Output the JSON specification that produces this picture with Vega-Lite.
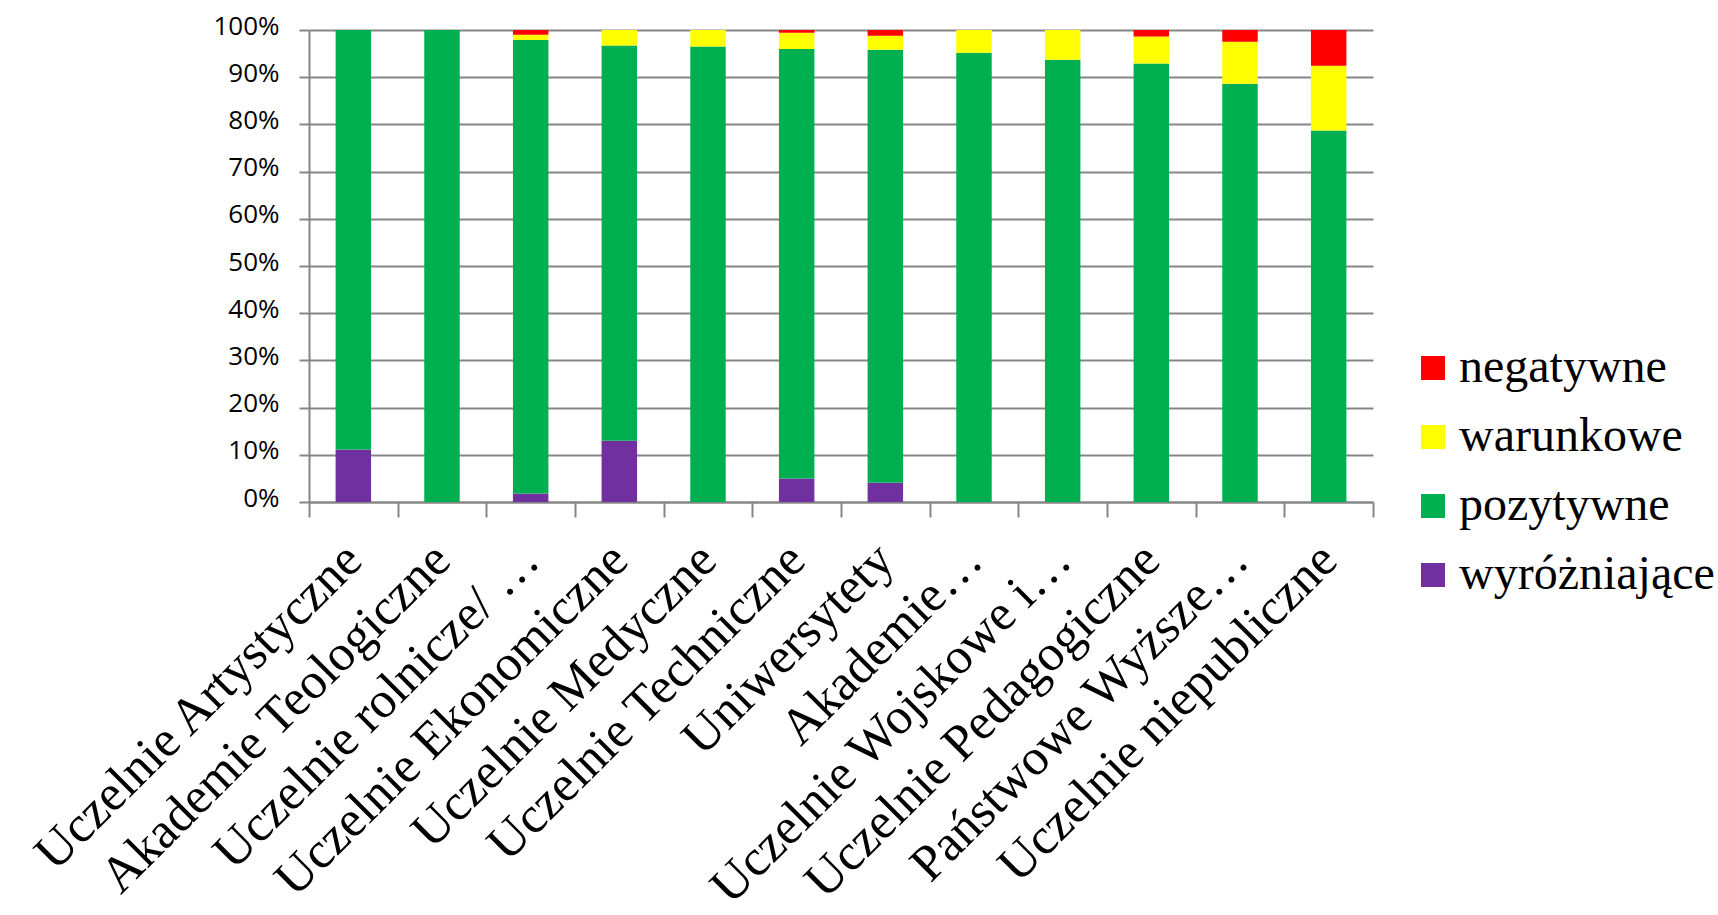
{
  "$schema": "https://vega.github.io/schema/vega-lite/v6.json",
  "width": 1064,
  "height": 472,
  "autosize": {"type": "none"},
  "padding": {"left": 309, "top": 30, "right": 345, "bottom": 413},
  "background": "white",
  "config": {"view": {"stroke": null}},
  "data": {
    "values": [
      {"uczelnia": "Uczelnie Artystyczne", "ocena": "wyróżniające", "procent": 11.1},
      {"uczelnia": "Uczelnie Artystyczne", "ocena": "pozytywne", "procent": 88.9},
      {"uczelnia": "Uczelnie Artystyczne", "ocena": "warunkowe", "procent": 0},
      {"uczelnia": "Uczelnie Artystyczne", "ocena": "negatywne", "procent": 0},
      {"uczelnia": "Akademie Teologiczne", "ocena": "wyróżniające", "procent": 0},
      {"uczelnia": "Akademie Teologiczne", "ocena": "pozytywne", "procent": 100},
      {"uczelnia": "Akademie Teologiczne", "ocena": "warunkowe", "procent": 0},
      {"uczelnia": "Akademie Teologiczne", "ocena": "negatywne", "procent": 0},
      {"uczelnia": "Uczelnie rolnicze/ …", "ocena": "wyróżniające", "procent": 1.8},
      {"uczelnia": "Uczelnie rolnicze/ …", "ocena": "pozytywne", "procent": 96.1},
      {"uczelnia": "Uczelnie rolnicze/ …", "ocena": "warunkowe", "procent": 1.1},
      {"uczelnia": "Uczelnie rolnicze/ …", "ocena": "negatywne", "procent": 1.0},
      {"uczelnia": "Uczelnie Ekonomiczne", "ocena": "wyróżniające", "procent": 13.0},
      {"uczelnia": "Uczelnie Ekonomiczne", "ocena": "pozytywne", "procent": 83.7},
      {"uczelnia": "Uczelnie Ekonomiczne", "ocena": "warunkowe", "procent": 3.3},
      {"uczelnia": "Uczelnie Ekonomiczne", "ocena": "negatywne", "procent": 0},
      {"uczelnia": "Uczelnie Medyczne", "ocena": "wyróżniające", "procent": 0},
      {"uczelnia": "Uczelnie Medyczne", "ocena": "pozytywne", "procent": 96.5},
      {"uczelnia": "Uczelnie Medyczne", "ocena": "warunkowe", "procent": 3.5},
      {"uczelnia": "Uczelnie Medyczne", "ocena": "negatywne", "procent": 0},
      {"uczelnia": "Uczelnie Techniczne", "ocena": "wyróżniające", "procent": 5.0},
      {"uczelnia": "Uczelnie Techniczne", "ocena": "pozytywne", "procent": 91.0},
      {"uczelnia": "Uczelnie Techniczne", "ocena": "warunkowe", "procent": 3.4},
      {"uczelnia": "Uczelnie Techniczne", "ocena": "negatywne", "procent": 0.6},
      {"uczelnia": "Uniwersytety", "ocena": "wyróżniające", "procent": 4.1},
      {"uczelnia": "Uniwersytety", "ocena": "pozytywne", "procent": 91.7},
      {"uczelnia": "Uniwersytety", "ocena": "warunkowe", "procent": 3.0},
      {"uczelnia": "Uniwersytety", "ocena": "negatywne", "procent": 1.2},
      {"uczelnia": "Akademie…", "ocena": "wyróżniające", "procent": 0},
      {"uczelnia": "Akademie…", "ocena": "pozytywne", "procent": 95.2},
      {"uczelnia": "Akademie…", "ocena": "warunkowe", "procent": 4.8},
      {"uczelnia": "Akademie…", "ocena": "negatywne", "procent": 0},
      {"uczelnia": "Uczelnie Wojskowe i…", "ocena": "wyróżniające", "procent": 0},
      {"uczelnia": "Uczelnie Wojskowe i…", "ocena": "pozytywne", "procent": 93.7},
      {"uczelnia": "Uczelnie Wojskowe i…", "ocena": "warunkowe", "procent": 6.3},
      {"uczelnia": "Uczelnie Wojskowe i…", "ocena": "negatywne", "procent": 0},
      {"uczelnia": "Uczelnie Pedagogiczne", "ocena": "wyróżniające", "procent": 0},
      {"uczelnia": "Uczelnie Pedagogiczne", "ocena": "pozytywne", "procent": 92.9},
      {"uczelnia": "Uczelnie Pedagogiczne", "ocena": "warunkowe", "procent": 5.7},
      {"uczelnia": "Uczelnie Pedagogiczne", "ocena": "negatywne", "procent": 1.4},
      {"uczelnia": "Państwowe Wyższe…", "ocena": "wyróżniające", "procent": 0},
      {"uczelnia": "Państwowe Wyższe…", "ocena": "pozytywne", "procent": 88.6},
      {"uczelnia": "Państwowe Wyższe…", "ocena": "warunkowe", "procent": 8.9},
      {"uczelnia": "Państwowe Wyższe…", "ocena": "negatywne", "procent": 2.5},
      {"uczelnia": "Uczelnie niepubliczne", "ocena": "wyróżniające", "procent": 0},
      {"uczelnia": "Uczelnie niepubliczne", "ocena": "pozytywne", "procent": 78.7},
      {"uczelnia": "Uczelnie niepubliczne", "ocena": "warunkowe", "procent": 13.7},
      {"uczelnia": "Uczelnie niepubliczne", "ocena": "negatywne", "procent": 7.6}
    ]
  },
  "transform": [
    {"calculate": "indexof(['wyróżniające','pozytywne','warunkowe','negatywne'], datum.ocena)", "as": "kolejnosc"}
  ],
  "mark": {"type": "bar", "width": {"band": 0.4}},
  "encoding": {
    "x": {
      "field": "uczelnia",
      "type": "nominal",
      "sort": null,
      "scale": {"paddingInner": 0, "paddingOuter": 0},
      "axis": {
        "title": null,
        "tickBand": "extent",
        "labelAngle": -45,
        "labelAlign": "right",
        "labelBaseline": "middle",
        "labelFont": "Liberation Serif",
        "labelFontSize": 51,
        "labelColor": "black",
        "labelPadding": 35,
        "labelLimit": 0,
        "labelOverlap": false,
        "domainColor": "#868686",
        "domainWidth": 2,
        "tickColor": "#868686",
        "tickWidth": 2,
        "tickSize": 15,
        "grid": false
      }
    },
    "y": {
      "field": "procent",
      "type": "quantitative",
      "stack": "normalize",
      "scale": {"domain": [0, 1]},
      "axis": {
        "title": null,
        "format": ".0%",
        "values": [0, 0.1, 0.2, 0.3, 0.4, 0.5, 0.6, 0.7, 0.8, 0.9, 1],
        "labelOverlap": false,
        "labelFont": "Open Sans",
        "labelFontSize": 26,
        "labelColor": "black",
        "labelPadding": 20,
        "labelOffset": -4,
        "tickSize": 10,
        "tickColor": "#868686",
        "tickWidth": 2,
        "domainColor": "#868686",
        "domainWidth": 2,
        "grid": true,
        "gridColor": "#868686",
        "gridWidth": 2,
        "gridOpacity": 1
      }
    },
    "color": {
      "field": "ocena",
      "type": "nominal",
      "scale": {
        "domain": ["negatywne", "warunkowe", "pozytywne", "wyróżniające"],
        "range": ["#FF0000", "#FFFF00", "#00B050", "#7030A0"]
      },
      "legend": {
        "title": null,
        "orient": "none",
        "legendX": 1100,
        "legendY": 314,
        "symbolType": "square",
        "symbolSize": 576,
        "symbolStrokeWidth": 0,
        "symbolOpacity": 1,
        "labelFont": "Liberation Serif",
        "labelFontSize": 48,
        "labelColor": "black",
        "labelOffset": 2,
        "labelLimit": 0,
        "rowPadding": 21,
        "padding": 0
      }
    },
    "order": {"field": "kolejnosc", "type": "quantitative", "sort": "ascending"}
  }
}
